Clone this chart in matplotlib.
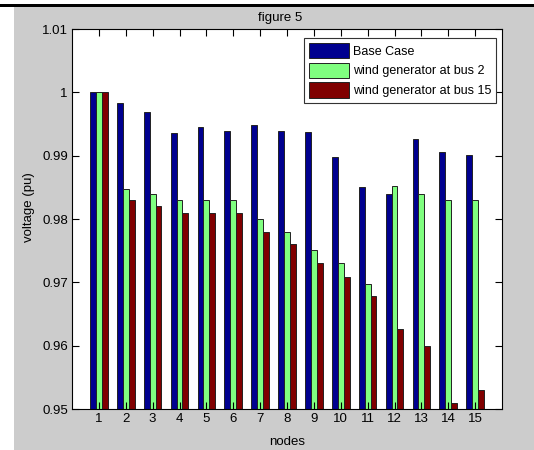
import matplotlib
matplotlib.use("Agg")
import matplotlib.pyplot as plt
import numpy as np
from matplotlib.patches import Rectangle

plt.rcParams['font.family'] = ['Liberation Sans', 'DejaVu Sans']
plt.rcParams['font.size'] = 9

# bus voltages
nodes = list(range(1, 16))
base_case = [1.0, 0.9983, 0.9969, 0.9936, 0.9945, 0.9939, 0.9948, 0.9939,
             0.9937, 0.9898, 0.9850, 0.9840, 0.9926, 0.9906, 0.9901]
wind_bus2 = [1.0, 0.9848, 0.9840, 0.9830, 0.9830, 0.9830, 0.9800, 0.9780,
             0.9751, 0.9730, 0.9698, 0.9852, 0.9840, 0.9830, 0.9830]
wind_bus15 = [1.0, 0.9830, 0.9820, 0.9810, 0.9810, 0.9810, 0.9779, 0.9760,
              0.9730, 0.9709, 0.9679, 0.9627, 0.9599, 0.9510, 0.9530]
series_names = ['Base Case', 'wind generator at bus 2', 'wind generator at bus 15']
yticks = [0.95, 0.96, 0.97, 0.98, 0.99, 1.0, 1.01]
ytick_labels = ['0.95', '0.96', '0.97', '0.98', '0.99', '1', '1.01']

colors = ['#00008F', '#80FF80', '#800000']

fig = plt.figure(figsize=(5.34, 4.5), dpi=100)
fig.patch.set_facecolor('white')
# gray matlab window + black band at the top
fig.patches.append(Rectangle((14 / 534, 0), 1, 443 / 450, transform=fig.transFigure,
                             facecolor='#CCCCCC', edgecolor='none', zorder=-5))
fig.patches.append(Rectangle((0, 443 / 450), 1, 3.5 / 450, transform=fig.transFigure,
                             facecolor='black', edgecolor='none', zorder=-5))

ax = fig.add_axes([72 / 534, 1 - 409 / 450, 430 / 534, 380 / 450])

x = np.array(nodes)
w = 0.22
for i, (vals, name) in enumerate(zip([base_case, wind_bus2, wind_bus15], series_names)):
    ax.bar(x + (i - 1) * w, np.array(vals) - 0.95, width=w, bottom=0.95,
           color=colors[i], edgecolor='#222222', linewidth=0.7, label=name)

ax.set_xlim(0, 16)
ax.set_ylim(0.95, 1.01)
ax.set_xticks(nodes)
ax.set_xticklabels([str(n) for n in nodes])
ax.set_yticks(yticks)
ax.set_yticklabels(ytick_labels)
ax.tick_params(direction='in', length=5, width=0.8, top=True, right=True,
               labelsize=9.5, pad=3)
for s in ax.spines.values():
    s.set_linewidth(0.8)

ax.set_title('figure 5', fontsize=9.5, pad=6, x=0.485)
ax.set_xlabel('nodes', fontsize=9.5)
ax.xaxis.set_label_coords(0.5, -0.072)
ax.set_ylabel('voltage (pu)', fontsize=9.5)
ax.yaxis.set_label_coords(-0.086, 0.53)

leg = ax.legend(loc='upper right', bbox_to_anchor=(0.986, 0.976), fontsize=9,
                frameon=True, fancybox=False, edgecolor='#333333', framealpha=1,
                handlelength=3.2, handleheight=1.5, handletextpad=0.3,
                borderpad=0.4, labelspacing=0.35, borderaxespad=0)
leg.get_frame().set_linewidth(0.8)

fig.savefig('out.png', dpi=100)
